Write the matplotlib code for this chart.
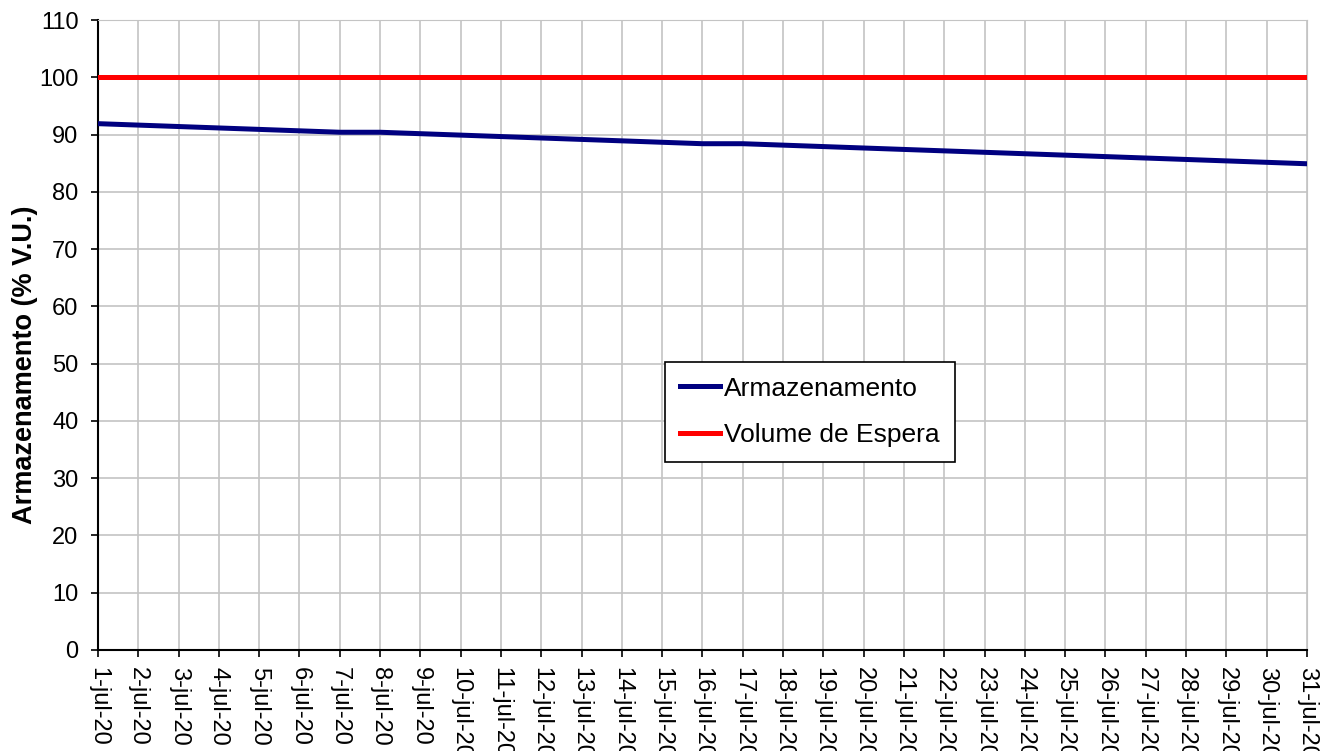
import matplotlib
matplotlib.use("Agg")
import matplotlib.pyplot as plt

plt.rcParams['font.family'] = ['Liberation Sans', 'DejaVu Sans']

# dias de julho de 2020
dias = list(range(1, 32))
rotulos = [f"{d}-jul-20" for d in dias]

armazenamento = [91.9, 91.65, 91.4, 91.15, 90.9, 90.65, 90.4, 90.4, 90.15, 89.9,
                 89.65, 89.4, 89.15, 88.9, 88.65, 88.4, 88.4, 88.15, 87.9, 87.65,
                 87.4, 87.15, 86.9, 86.65, 86.4, 86.15, 85.9, 85.65, 85.4, 85.15,
                 84.9]
volume_espera = [100.0] * 31

fig = plt.figure(figsize=(13.37, 7.51), dpi=100)
ax = fig.add_axes([98/1337, 1 - 650/751, 1209/1337, 630/751])

ax.plot(dias, armazenamento, color="#000080", lw=3.6, label="Armazenamento", zorder=3)
ax.plot(dias, volume_espera, color="#FF0000", lw=3.6, label="Volume de Espera", zorder=3)

ax.set_xlim(1, 31)
ax.set_ylim(0, 110)
ax.set_yticks(range(0, 111, 10))
ax.set_xticks(dias)
ax.set_xticklabels(rotulos, rotation=-90, ha="center", va="top")
ax.tick_params(axis="both", labelsize=17, direction="out", length=5, width=1.2, color="black")
ax.tick_params(axis="y", pad=9)
ax.tick_params(axis="x", pad=7)

ax.grid(True, color="#c4c4c4", lw=1.2)
ax.set_axisbelow(True)
for s in ["top", "right"]:
    ax.spines[s].set_color("#c4c4c4")
for s in ["left", "bottom"]:
    ax.spines[s].set_color("black")
    ax.spines[s].set_linewidth(1.5)

ax.set_ylabel("Armazenamento (% V.U.)", fontsize=19.5, fontweight="bold")
ax.yaxis.set_label_coords(-0.0605, 0.452)
ax.yaxis.label.set_va("center")

leg = ax.legend(loc="upper left", bbox_to_anchor=(0.469, 0.457), fontsize=19,
                fancybox=False, framealpha=1, edgecolor="black", handlelength=1.55,
                handletextpad=0.15, labelspacing=0.85, borderpad=0.55, borderaxespad=0)
leg.get_frame().set_linewidth(1.2)

fig.savefig("out.png", dpi=100)
